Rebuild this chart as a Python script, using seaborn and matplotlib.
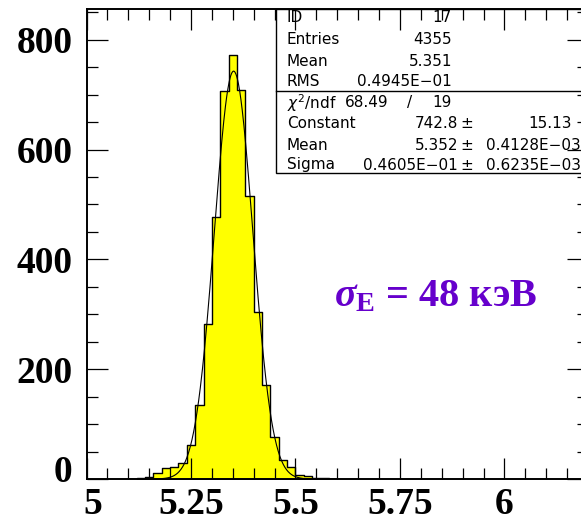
import numpy as np
import pandas as pd
import matplotlib
matplotlib.use("Agg")
import matplotlib.pyplot as plt
import matplotlib.transforms as mtrans
import seaborn as sns
from matplotlib.patches import Rectangle
from matplotlib.ticker import MultipleLocator

# ---------------- data ----------------
bin_width = 0.02
bin_left = [5.12, 5.14, 5.16, 5.18, 5.20, 5.22, 5.24, 5.26, 5.28, 5.30, 5.32, 5.34,
            5.36, 5.38, 5.40, 5.42, 5.44, 5.46, 5.48, 5.50, 5.52, 5.54, 5.56]
counts = [1, 4, 11, 20, 21, 29, 62, 135, 283, 477, 706, 773,
          709, 516, 305, 171, 76, 35, 21, 8, 5, 2, 1]

fit_const = 742.8
fit_mean = 5.352
fit_sigma = 0.04605

x_ticks = [5.0, 5.25, 5.5, 5.75, 6.0]
x_tick_labels = ["5", "5.25", "5.5", "5.75", "6"]
y_ticks = [0, 200, 400, 600, 800]
y_tick_labels = ["0", "200", "400", "600", "800"]

stats_top = [("ID", "17"), ("Entries", "4355"), ("Mean", "5.351"), ("RMS", "0.4945E\u221201")]
chi2_val = "68.49"
ndf_val = "19"
fit_rows = [("Constant", "742.8", "15.13"),
            ("Mean", "5.352", "0.4128E\u221203"),
            ("Sigma", "0.4605E\u221201", "0.6235E\u221203")]

annot = r"$\sigma_{\mathrm{E}}$ = 48 кэВ"

# ---------------- figure ----------------
W, H = 581, 521
plt.rcParams["mathtext.fontset"] = "custom"
plt.rcParams["mathtext.rm"] = "Liberation Serif:bold"
plt.rcParams["mathtext.it"] = "Liberation Serif:italic:bold"
plt.rcParams["mathtext.bf"] = "Liberation Serif:bold"

fig = plt.figure(figsize=(W / 100, H / 100), dpi=100)
fig.patch.set_facecolor("white")

x_left_px, x_right_px = 86.5, 588.0
y_bot_px, y_top_px = 479.0, 9.0
ax = fig.add_axes([x_left_px / W, 1 - y_bot_px / H,
                   (x_right_px - x_left_px) / W, (y_bot_px - y_top_px) / H])

df = pd.DataFrame({"x": np.array(bin_left) + bin_width / 2, "w": counts})
edges = [round(v, 2) for v in bin_left] + [round(bin_left[-1] + bin_width, 2)]
sns.histplot(data=df, x="x", weights="w", bins=edges, element="step", fill=True,
             color="#ffff00", alpha=1.0, edgecolor="black", linewidth=1.0, ax=ax)

xf = np.linspace(5.10, 5.60, 500)
yf = fit_const * np.exp(-0.5 * ((xf - fit_mean) / fit_sigma) ** 2)
sns.lineplot(x=xf, y=yf, color="black", linewidth=0.8, ax=ax)

ax.set_xlim(5.0, 6.2)
ax.set_ylim(0, 856)
ax.set_xlabel("")
ax.set_ylabel("")

ax.set_xticks(x_ticks)
ax.set_xticklabels(x_tick_labels, fontfamily="Liberation Serif", fontweight="bold", fontsize=27)
ax.set_yticks(y_ticks)
ax.set_yticklabels(y_tick_labels, fontfamily="Liberation Serif", fontweight="bold", fontsize=27)
ax.xaxis.set_minor_locator(MultipleLocator(0.05))
ax.yaxis.set_minor_locator(MultipleLocator(50))
ax.tick_params(which="both", direction="in", top=True, right=True, color="black", width=0.9)
ax.tick_params(which="major", length=15)
ax.tick_params(which="minor", length=8)
ax.tick_params(axis="y", which="major", pad=10)
ax.tick_params(axis="x", which="major", pad=6)
for s in ax.spines.values():
    s.set_linewidth(1.4)

# nudge the "0" and "5" labels apart like the original
lab0 = ax.get_yticklabels()[0]
lab0.set_transform(lab0.get_transform() + mtrans.ScaledTranslation(0, 10 / 100, fig.dpi_scale_trans))
lab5 = ax.get_xticklabels()[0]
lab5.set_transform(lab5.get_transform() + mtrans.ScaledTranslation(6 / 100, 0, fig.dpi_scale_trans))

# ---------------- stats box ----------------
def fx(px):
    return px / W

def fy(py):
    return 1 - py / H

box_l, box_t, box_b, box_div = 276, 9, 173, 91
ax.add_patch(Rectangle((fx(box_l), fy(box_b)), fx(640 - box_l), (box_b - box_t) / H,
                       transform=fig.transFigure, facecolor="white", edgecolor="black",
                       linewidth=1.0, zorder=1.2, clip_on=False))
ax.plot([fx(box_l), fx(640)], [fy(box_div), fy(box_div)], transform=fig.transFigure,
        color="black", linewidth=1.0, zorder=1.3, clip_on=False)

sfont = dict(fontfamily="DejaVu Sans", fontsize=11, va="center", color="black")
lab_x = 287
val_r = 452
row_y = [18, 40, 61, 82]
for (lab, val), yy in zip(stats_top, row_y):
    fig.text(fx(lab_x), fy(yy), lab, ha="left", **sfont)
    fig.text(fx(val_r), fy(yy), val, ha="right", **sfont)

fig.text(fx(lab_x), fy(103), r"$\chi^{2}$/ndf", ha="left", fontfamily="DejaVu Sans",
         fontsize=11, va="center", math_fontfamily="dejavusans")
fig.text(fx(345), fy(103), chi2_val, ha="left", **sfont)
fig.text(fx(410), fy(103), "/", ha="center", **sfont)
fig.text(fx(val_r), fy(103), ndf_val, ha="right", **sfont)

fit_y = [124, 145, 165]
err_r = [572, 581, 581]
for (lab, val, err), yy, er in zip(fit_rows, fit_y, err_r):
    fig.text(fx(lab_x), fy(yy), lab, ha="left", **sfont)
    fig.text(fx(458), fy(yy), val, ha="right", **sfont)
    fig.text(fx(467), fy(yy), "\u00b1", ha="center", **sfont)
    fig.text(fx(er), fy(yy), err, ha="right", **sfont)

# ---------------- annotation ----------------
fig.text(fx(334), fy(306), annot, ha="left", va="baseline", color="#6600cc",
         fontfamily="Liberation Serif", fontweight="bold", fontsize=29)

fig.savefig("out.png", dpi=100)
